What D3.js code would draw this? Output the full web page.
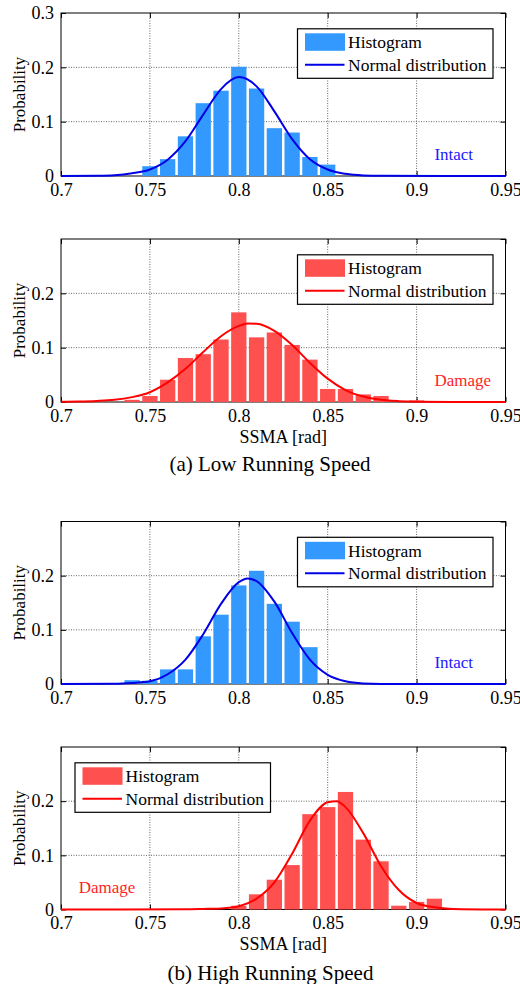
<!DOCTYPE html>
<html>
<head>
<meta charset="utf-8">
<script src="https://cdn.jsdelivr.net/npm/d3@7"></script>
<style>
body { margin: 0; background: #fff; }
text { font-family: "Liberation Serif", "Times New Roman", serif; }
</style>
</head>
<body>
<div id="chart"></div>
<script>
// ticks
var xTicks = [0.7, 0.75, 0.8, 0.85, 0.9, 0.95];
var xGrid = [0.75, 0.8, 0.85, 0.9];
var yTicksFirst = [0, 0.1, 0.2, 0.3];
var yTicksOther = [0, 0.1, 0.2];
var yGrid = [0.1, 0.2];

// (a) low speed, intact
var lowIntactBins = [0.75, 0.76, 0.77, 0.78, 0.79, 0.80, 0.81, 0.82, 0.83, 0.84, 0.85];
var lowIntactProb = [0.018, 0.031, 0.073, 0.134, 0.157, 0.201, 0.161, 0.088, 0.080, 0.035, 0.021];
var lowIntactFitX = [0.70, 0.72, 0.73, 0.74, 0.75, 0.76, 0.77, 0.78, 0.79, 0.80, 0.81, 0.82, 0.83, 0.84, 0.85, 0.86, 0.87, 0.88, 0.95];
var lowIntactFitY = [0, 0.0005, 0.0015, 0.005, 0.012, 0.030, 0.064, 0.113, 0.160, 0.182, 0.165, 0.119, 0.068, 0.031, 0.012, 0.004, 0.001, 0.0003, 0];

// (a) low speed, damage
var lowDamageBins = [0.74, 0.75, 0.76, 0.77, 0.78, 0.79, 0.80, 0.81, 0.82, 0.83, 0.84, 0.85, 0.86, 0.87, 0.88, 0.90];
var lowDamageProb = [0.004, 0.011, 0.041, 0.081, 0.088, 0.115, 0.165, 0.119, 0.128, 0.105, 0.078, 0.024, 0.024, 0.014, 0.011, 0.003];
var lowDamageFitX = [0.70, 0.71, 0.72, 0.73, 0.74, 0.75, 0.76, 0.77, 0.78, 0.79, 0.80, 0.805, 0.81, 0.82, 0.83, 0.84, 0.85, 0.86, 0.87, 0.88, 0.89, 0.90, 0.92, 0.95];
var lowDamageFitY = [0.0005, 0.001, 0.002, 0.004, 0.009, 0.018, 0.036, 0.061, 0.092, 0.121, 0.140, 0.1445, 0.144, 0.131, 0.105, 0.072, 0.043, 0.022, 0.010, 0.004, 0.0015, 0.0005, 0, 0];

// (b) high speed, intact
var highIntactBins = [0.74, 0.75, 0.76, 0.77, 0.78, 0.79, 0.80, 0.81, 0.82, 0.83, 0.84];
var highIntactProb = [0.007, 0.006, 0.027, 0.027, 0.088, 0.128, 0.182, 0.209, 0.148, 0.115, 0.068];
var highIntactFitX = [0.70, 0.73, 0.74, 0.75, 0.76, 0.77, 0.78, 0.79, 0.80, 0.805, 0.81, 0.82, 0.83, 0.84, 0.85, 0.86, 0.87, 0.88, 0.95];
var highIntactFitY = [0, 0.0005, 0.002, 0.005, 0.018, 0.045, 0.092, 0.148, 0.188, 0.195, 0.190, 0.152, 0.094, 0.045, 0.017, 0.005, 0.001, 0.0002, 0];

// (b) high speed, damage
var highDamageBins = [0.80, 0.81, 0.82, 0.83, 0.84, 0.85, 0.86, 0.87, 0.88, 0.89, 0.90, 0.91];
var highDamageProb = [0.007, 0.028, 0.055, 0.082, 0.176, 0.189, 0.217, 0.129, 0.089, 0.007, 0.014, 0.020];
var highDamageFitX = [0.70, 0.77, 0.78, 0.79, 0.80, 0.81, 0.82, 0.83, 0.84, 0.85, 0.855, 0.86, 0.87, 0.88, 0.89, 0.90, 0.91, 0.92, 0.95];
var highDamageFitY = [0, 0.0003, 0.001, 0.002, 0.006, 0.020, 0.050, 0.103, 0.164, 0.198, 0.200, 0.189, 0.141, 0.080, 0.036, 0.012, 0.004, 0.001, 0];

var colors = {
    intact: { bar: '#3399ff', line: '#0000e6', label: '#1a1aff' },
    damage: { bar: '#ff5050', line: '#ff0000', label: '#ff1f1f' }
};

var plotLeft = 61;
var plotRight = 505.5;
var barHalf = 0.0043;

var svg = d3.select('#chart').append('svg')
    .attr('width', 520)
    .attr('height', 984);

svg.append('rect').attr('width', 520).attr('height', 984).attr('fill', '#fff');

var panels = [
    { top: 13, bottom: 176, bins: lowIntactBins, prob: lowIntactProb, fitX: lowIntactFitX, fitY: lowIntactFitY,
      kind: 'intact', yTicks: yTicksFirst, legendLeft: false, label: 'Intact', labelX: 0.91, xlabel: false },
    { top: 239, bottom: 402, bins: lowDamageBins, prob: lowDamageProb, fitX: lowDamageFitX, fitY: lowDamageFitY,
      kind: 'damage', yTicks: yTicksOther, legendLeft: false, label: 'Damage', labelX: 0.91, xlabel: true },
    { top: 521.5, bottom: 684, bins: highIntactBins, prob: highIntactProb, fitX: highIntactFitX, fitY: highIntactFitY,
      kind: 'intact', yTicks: yTicksOther, legendLeft: false, label: 'Intact', labelX: 0.91, xlabel: false },
    { top: 747, bottom: 909.5, bins: highDamageBins, prob: highDamageProb, fitX: highDamageFitX, fitY: highDamageFitY,
      kind: 'damage', yTicks: yTicksOther, legendLeft: true, label: 'Damage', labelX: 0.71, xlabel: true }
];

var drawPanel = function (p) {
    var c = colors[p.kind];
    var g = svg.append('g');

    var xScale = d3.scaleLinear().domain([0.7, 0.95]).range([plotLeft, plotRight]);
    var yScale = d3.scaleLinear().domain([0, 0.3]).range([p.bottom, p.top]);

    // dotted grid
    g.selectAll('.gx').data(xGrid).enter().append('line')
        .attr('x1', function (d) { return xScale(d); })
        .attr('x2', function (d) { return xScale(d); })
        .attr('y1', p.top).attr('y2', p.bottom)
        .attr('stroke', '#666').attr('stroke-width', 1).attr('stroke-dasharray', '1,1.5');
    g.selectAll('.gy').data(yGrid).enter().append('line')
        .attr('y1', function (d) { return yScale(d); })
        .attr('y2', function (d) { return yScale(d); })
        .attr('x1', plotLeft).attr('x2', plotRight)
        .attr('stroke', '#666').attr('stroke-width', 1).attr('stroke-dasharray', '1,1.5');

    // axes with inner ticks (MATLAB style)
    var xAxis = d3.axisBottom(xScale).tickValues(xTicks).tickSizeInner(-5).tickSizeOuter(0).tickPadding(7)
        .tickFormat(function (d) { return String(d); });
    var yAxis = d3.axisLeft(yScale).tickValues(p.yTicks).tickSizeInner(-5).tickSizeOuter(0).tickPadding(7)
        .tickFormat(function (d) { return String(d); });
    var xTop = d3.axisTop(xScale).tickValues(xTicks).tickSizeInner(-5).tickSizeOuter(0).tickFormat('');
    var yRight = d3.axisRight(yScale).tickValues(yTicksFirst).tickSizeInner(-5).tickSizeOuter(0).tickFormat('');

    var axes = [
        g.append('g').attr('transform', 'translate(0,' + p.bottom + ')').call(xAxis),
        g.append('g').attr('transform', 'translate(' + plotLeft + ',0)').call(yAxis),
        g.append('g').attr('transform', 'translate(0,' + p.top + ')').call(xTop),
        g.append('g').attr('transform', 'translate(' + plotRight + ',0)').call(yRight)
    ];
    axes.forEach(function (a) {
        a.select('.domain').remove();
        a.selectAll('line').attr('stroke', '#000');
        a.selectAll('text').attr('fill', '#000').style('font-size', '18px').style('font-family', '"Liberation Serif", "Times New Roman", serif');
    });

    g.append('rect')
        .attr('x', plotLeft).attr('y', p.top)
        .attr('width', plotRight - plotLeft).attr('height', p.bottom - p.top)
        .attr('fill', 'none').attr('stroke', '#000').attr('stroke-width', 1);

    // histogram bars
    g.selectAll('.bar').data(p.bins).enter().append('rect')
        .attr('x', function (d) { return xScale(d - barHalf); })
        .attr('width', function (d) { return xScale(d + barHalf) - xScale(d - barHalf); })
        .attr('y', function (d, i) { return yScale(p.prob[i]); })
        .attr('height', function (d, i) { return yScale(0) - yScale(p.prob[i]); })
        .attr('fill', c.bar);

    // fitted normal curve
    var fit = p.fitX.map(function (x, i) { return { x: x, y: p.fitY[i] }; });
    var line = d3.line()
        .x(function (d) { return xScale(d.x); })
        .y(function (d) { return yScale(d.y); })
        .curve(d3.curveMonotoneX);
    g.append('path')
        .attr('d', line(fit))
        .attr('fill', 'none')
        .attr('stroke', c.line)
        .attr('stroke-width', 2);

    // legend
    var lw = 195.5, lh = 49.5;
    var lx = p.legendLeft ? plotLeft + 14 : plotRight - 12.5 - lw;
    var ly = p.top + 15.8;
    var lg = g.append('g').attr('transform', 'translate(' + lx + ',' + ly + ')');
    lg.append('rect').attr('width', lw).attr('height', lh)
        .attr('fill', '#fff').attr('stroke', '#000').attr('stroke-width', 1.2);
    lg.append('rect').attr('x', 7.5).attr('y', 4.5).attr('width', 40).attr('height', 17.5).attr('fill', c.bar);
    lg.append('line').attr('x1', 7.5).attr('x2', 47).attr('y1', 36).attr('y2', 36)
        .attr('stroke', c.line).attr('stroke-width', 2);
    lg.append('text').attr('x', 50.5).attr('y', 19.5).style('font-size', '17.5px').text('Histogram');
    lg.append('text').attr('x', 50.5).attr('y', 42).style('font-size', '17.5px').text('Normal distribution');

    // case label
    g.append('text')
        .attr('x', xScale(p.labelX))
        .attr('y', yScale(0.03))
        .attr('fill', c.label)
        .style('font-size', '17px')
        .text(p.label);

    // y label
    g.append('text')
        .attr('transform', 'translate(25,' + ((p.top + p.bottom) / 2) + ') rotate(-90)')
        .attr('text-anchor', 'middle')
        .style('font-size', '17px')
        .text('Probability');

    if (p.xlabel) {
        g.append('text')
            .attr('x', (plotLeft + plotRight) / 2)
            .attr('y', p.bottom + 40.5)
            .attr('text-anchor', 'middle')
            .style('font-size', '18px')
            .text('SSMA [rad]');
    }
};

panels.forEach(drawPanel);

svg.append('text').attr('x', 270).attr('y', 470.5).attr('text-anchor', 'middle')
    .style('font-size', '21px').text('(a) Low Running Speed');
svg.append('text').attr('x', 270.5).attr('y', 980).attr('text-anchor', 'middle')
    .style('font-size', '21px').text('(b) High Running Speed');
</script>
</body>
</html>
